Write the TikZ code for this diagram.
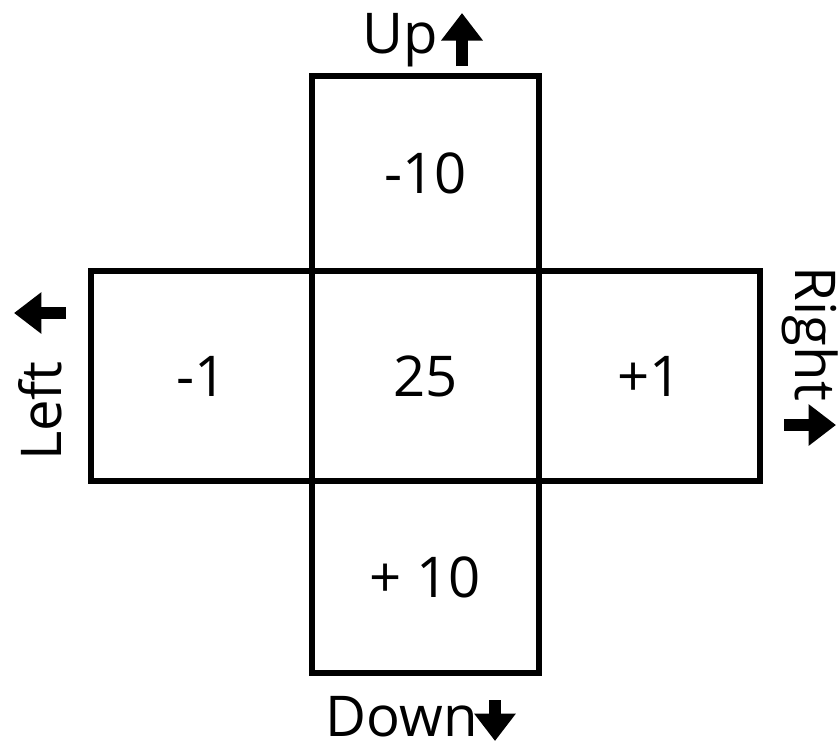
\documentclass[tikz,border=0pt]{standalone}
\usepackage{fontspec}
\setmainfont{Open Sans}
\usetikzlibrary{positioning,arrows.meta}

\tikzset{
  cell/.style={draw, line width=3.4pt, inner sep=0pt},
  wide/.style={minimum width=4.54cm},
  narrow/.style={minimum width=4.42cm},
  lbl/.style={font=\fontsize{32}{38}\selectfont, inner sep=0pt},
  fat/.style={line width=0.24cm, -{Triangle[width=0.8cm, length=0.55cm]}}
}

\begin{document}
\begin{tikzpicture}[x=0.02cm, y=-0.02cm]
  \useasboundingbox (0,0) rectangle (838,748);

  % the five cells
  \node[cell, wide, minimum height=3.90cm] (up)    at (425.5,173.5) {};
  \node[cell, wide, minimum height=4.20cm] (mid)   at (425.5,376)   {};
  \node[cell, wide, minimum height=3.84cm] (down)  at (425.5,577)   {};
  \node[cell, narrow, minimum height=4.20cm] (left)  at (201.5,376) {};
  \node[cell, narrow, minimum height=4.20cm] (right) at (649.5,376) {};

  % values
  \node[lbl] (vup)    at (up)    {-10};
  \node[lbl] (vmid)   at (mid)   {25};
  \node[lbl] (vdown)  at (down)  {+ 10};
  \node[lbl] (vleft)  at (left)  {-1};
  \node[lbl] (vright) at (right) {+1};

  % directions
  \node[lbl] (tup)    at (400,40)  {Up};
  \node[lbl] (tdown)  at (402,717) {Down};
  \node[lbl, rotate=90]  (tleft)  at (40,411)  {Left};
  \node[lbl, rotate=-90] (tright) at (810,334) {Right};

  \coordinate (aup0) at (462,66);    \coordinate (aup1) at (462,13);
  \coordinate (adown0) at (495,700); \coordinate (adown1) at (495,741);
  \coordinate (aleft0) at (66,313);  \coordinate (aleft1) at (14,313);
  \coordinate (aright0) at (784,425); \coordinate (aright1) at (836,425);
  \draw[fat] (aup0) -- (aup1);
  \draw[fat] (adown0) -- (adown1);
  \draw[fat] (aleft0) -- (aleft1);
  \draw[fat] (aright0) -- (aright1);
\end{tikzpicture}
\end{document}
